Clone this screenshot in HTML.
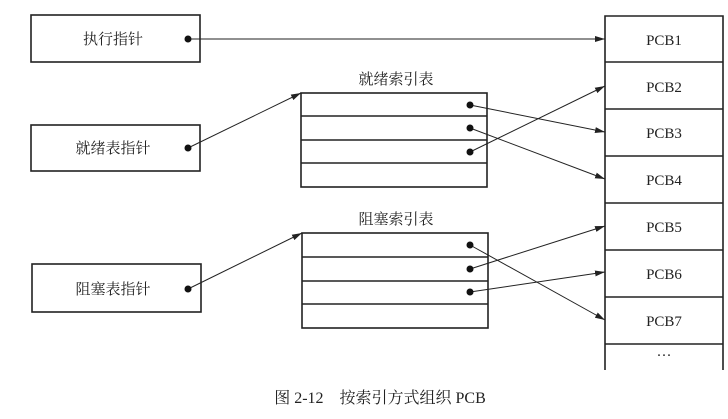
<!DOCTYPE html>
<html><head><meta charset="utf-8"><style>
html,body{margin:0;padding:0;background:#fff;width:728px;height:419px;overflow:hidden}
text{font-family:"Liberation Serif","Noto Serif CJK SC","Noto Sans CJK SC",serif;fill:#222}
</style></head><body>
<svg width="728" height="419" viewBox="0 0 728 419" xmlns="http://www.w3.org/2000/svg">
<defs><marker id="a" markerWidth="10" markerHeight="6" refX="10" refY="3" orient="auto" markerUnits="userSpaceOnUse"><path d="M0,0 L10,3 L0,6 z" fill="#222"/></marker></defs>
<g stroke="#222" stroke-width="1.6" fill="none">
<rect x="31" y="15" width="169" height="47"/>
<rect x="31" y="125" width="169" height="46"/>
<rect x="32" y="264" width="169" height="48"/>
<rect x="301" y="93" width="186" height="94"/>
<line x1="301" y1="116" x2="487" y2="116"/><line x1="301" y1="140" x2="487" y2="140"/><line x1="301" y1="163" x2="487" y2="163"/>
<rect x="302" y="233" width="186" height="95"/>
<line x1="302" y1="257" x2="488" y2="257"/><line x1="302" y1="281" x2="488" y2="281"/><line x1="302" y1="304" x2="488" y2="304"/>
<path d="M605,370 V16 H723 V370"/>
<line x1="605" y1="62" x2="723" y2="62"/><line x1="605" y1="109" x2="723" y2="109"/><line x1="605" y1="156" x2="723" y2="156"/><line x1="605" y1="203" x2="723" y2="203"/><line x1="605" y1="250" x2="723" y2="250"/><line x1="605" y1="297" x2="723" y2="297"/><line x1="605" y1="344" x2="723" y2="344"/>
</g>
<g stroke="#222" stroke-width="1" marker-end="url(#a)">
<line x1="188" y1="39" x2="605" y2="39"/>
<line x1="188" y1="148" x2="301" y2="93"/>
<line x1="188" y1="289" x2="302" y2="233"/>
<line x1="470" y1="105" x2="605" y2="132"/>
<line x1="470" y1="128" x2="605" y2="179"/>
<line x1="470" y1="152" x2="605" y2="86"/>
<line x1="470" y1="245" x2="605" y2="320"/>
<line x1="470" y1="269" x2="605" y2="226"/>
<line x1="470" y1="292" x2="605" y2="272"/>
</g>
<g fill="#111">
<circle cx="188" cy="39" r="3.5"/><circle cx="188" cy="148" r="3.5"/><circle cx="188" cy="289" r="3.5"/>
<circle cx="470" cy="105" r="3.5"/><circle cx="470" cy="128" r="3.5"/><circle cx="470" cy="152" r="3.5"/>
<circle cx="470" cy="245" r="3.5"/><circle cx="470" cy="269" r="3.5"/><circle cx="470" cy="292" r="3.5"/>
</g>
<g font-size="15">
<text x="113" y="44" text-anchor="middle">执行指针</text>
<text x="113" y="153" text-anchor="middle">就绪表指针</text>
<text x="113" y="294" text-anchor="middle">阻塞表指针</text>
<text x="396" y="84" text-anchor="middle">就绪索引表</text>
<text x="396" y="224" text-anchor="middle">阻塞索引表</text>
<text x="664" y="45" text-anchor="middle">PCB1</text>
<text x="664" y="92" text-anchor="middle">PCB2</text>
<text x="664" y="138" text-anchor="middle">PCB3</text>
<text x="664" y="185" text-anchor="middle">PCB4</text>
<text x="664" y="232" text-anchor="middle">PCB5</text>
<text x="664" y="279" text-anchor="middle">PCB6</text>
<text x="664" y="326" text-anchor="middle">PCB7</text>
<text x="664" y="360" text-anchor="middle">···</text>
</g>
<text x="380" y="403" font-size="16" text-anchor="middle">图 2-12　按索引方式组织 PCB</text>
</svg>
</body></html>
